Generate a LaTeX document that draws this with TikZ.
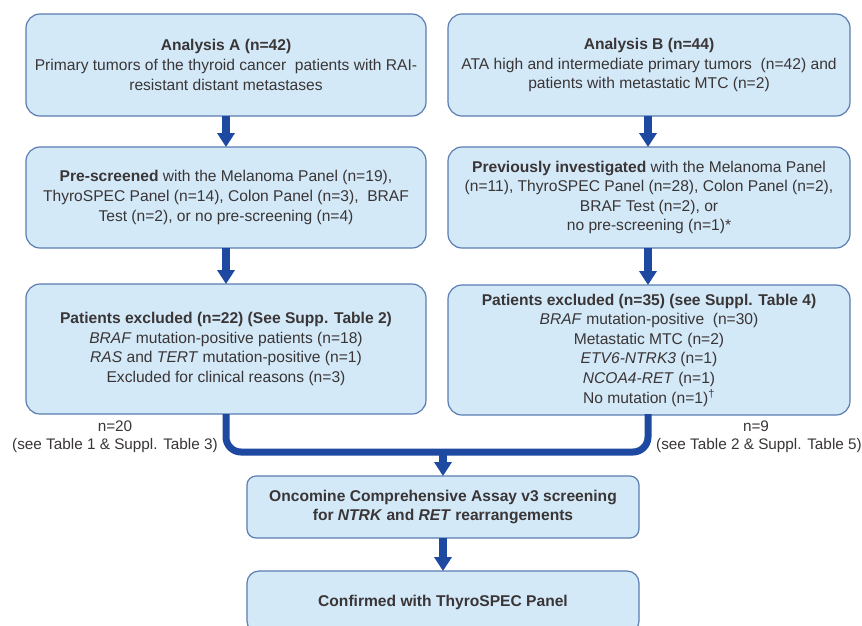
\documentclass[tikz,border=0pt]{standalone}
\usepackage{fontspec}
\setmainfont{Liberation Sans}
\usetikzlibrary{arrows.meta}
\definecolor{boxfill}{HTML}{D3E9F8}
\definecolor{boxline}{HTML}{5B7DB1}
\definecolor{arrowc}{HTML}{1D49A0}
\definecolor{txt}{HTML}{3A3536}
\begin{document}
\begin{tikzpicture}[x=1pt,y=-1pt,
  box/.style={draw=boxline, line width=1.2pt, fill=boxfill, rounded corners=14pt,
    align=center, text=txt, font=\fontsize{15.6}{19.6}\selectfont, inner sep=0pt, outer sep=0pt},
  wide/.style={minimum width=400pt},
  lbl/.style={text=txt, font=\fontsize{15.3}{19.6}\selectfont, inner sep=0pt},
  flow/.style={draw=arrowc, line width=7.5pt, -{Triangle[width=17pt,length=14pt]}},
  conn/.style={draw=arrowc, line width=7pt, rounded corners=15pt}
]
\clip (0,0) rectangle (862,625);
\fill[white] (0,0) rectangle (862,625);

% left column
\node[box, wide, minimum height=102pt] (A1) at (226,65)
  {\textbf{Analysis A (n=42)}\\Primary tumors of the thyroid cancer\ \ patients with RAI-\\resistant distant metastases};
\node[box, wide, minimum height=101pt] (A2) at (226,197.5)
  {\textbf{Pre-screened} with the Melanoma Panel (n=19),\\ThyroSPEC Panel (n=14), Colon Panel (n=3),\ \ BRAF\\Test (n=2), or no pre-screening (n=4)};
\node[box, wide, minimum height=130pt] (A3) at (226,349)
  {\textbf{Patients excluded (n=22) (See Supp. Table 2)}\\\textit{BRAF} mutation-positive patients (n=18)\\\textit{RAS} and \textit{TERT} mutation-positive (n=1)\\Excluded for clinical reasons (n=3)};

% right column
\node[box, minimum width=402pt, minimum height=102pt] (B1) at (649,65)
  {\textbf{Analysis B (n=44)}\\ATA high and intermediate primary tumors\ \ (n=42) and\\patients with metastatic MTC (n=2)};
\node[box, minimum width=402pt, minimum height=101pt] (B2) at (649,197.5)
  {\textbf{Previously investigated} with the Melanoma Panel\\(n=11), ThyroSPEC Panel (n=28), Colon Panel (n=2),\\BRAF Test (n=2), or\\no pre-screening (n=1)*};
\node[box, minimum width=402pt, minimum height=130pt] (B3) at (649,350)
  {\textbf{Patients excluded (n=35) (see Suppl. Table 4)}\\\textit{BRAF} mutation-positive\ \ (n=30)\\Metastatic MTC (n=2)\\\textit{ETV6-NTRK3} (n=1)\\\textit{NCOA4-RET} (n=1)\\No mutation (n=1)\textsuperscript{\dag}};

% bottom
\node[box, rounded corners=9pt, minimum width=392pt, minimum height=62pt] (C1) at (443,507)
  {\textbf{Oncomine Comprehensive Assay v3 screening}\\\textbf{for \textit{NTRK} and \textit{RET} rearrangements}};
\node[box, rounded corners=12pt, minimum width=392pt, minimum height=62pt] (C2) at (443,602)
  {\textbf{Confirmed with ThyroSPEC Panel}};

% arrows
\draw[flow] (A1) -- (A2);
\draw[flow] (A2) -- (A3);
\draw[flow] (B1.south -| 648,0) -- (B2.north -| 648,0);
\draw[flow] (B2.south -| 648,0) -- (B3.north -| 648,0);

\coordinate (J) at (443,452);
\coordinate (Bs) at (648,414);
\draw[conn] (A3.south) |- (J) -| (Bs);
\draw[flow] (J) -- (C1.north);
\draw[flow] (C1.south) -- (C2.north);

% labels
\node[lbl] (nA) at (115,426) {n=20};
\node[lbl] (tA) at (115,446) {(see Table 1 \& Suppl. Table 3)};
\node[lbl] (nB) at (756,426) {n=9};
\node[lbl] (tB) at (759,446) {(see Table 2 \& Suppl. Table 5)};
\end{tikzpicture}
\end{document}
